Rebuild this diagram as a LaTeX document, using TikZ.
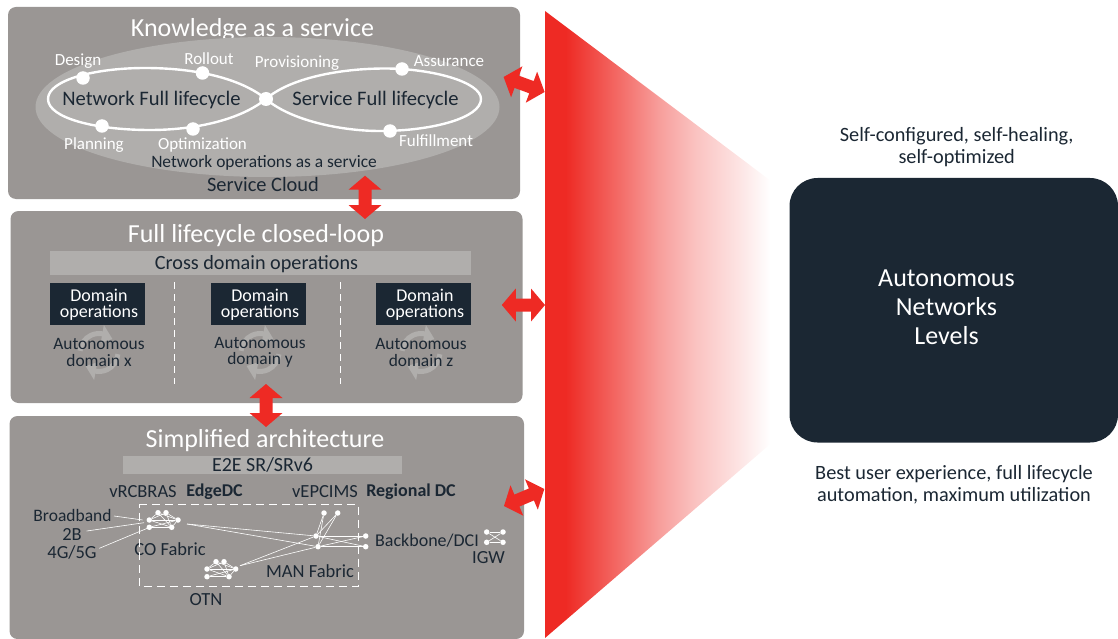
\documentclass[tikz,border=0pt]{standalone}
\usepackage{fontspec}
\setmainfont{Carlito}
\usetikzlibrary{arrows.meta,calc}
\definecolor{panel}{RGB}{154,150,148}
\definecolor{lightp}{RGB}{176,174,172}
\definecolor{navy}{RGB}{27,39,51}
\definecolor{redd}{RGB}{238,42,36}
\pgfdeclarehorizontalshading{wedgefade}{100bp}{color(0bp)=(redd);color(25bp)=(redd);color(29.5bp)=(redd);color(42bp)=(redd!67!white);color(50bp)=(redd!45!white);color(58bp)=(redd!28!white);color(67bp)=(redd!13!white);color(74bp)=(white);color(100bp)=(white)}
\newcommand{\fs}[1]{\fontsize{#1}{#1}\selectfont}
\tikzset{
 x=1pt,y=-1pt,
 panelbox/.style={fill=panel,rounded corners=8pt,draw=none},
 title/.style={text=white,font=\fs{26},inner sep=0},
 lab/.style={text=navy,font=\fs{18.5},inner sep=0,align=center},
 wlab/.style={text=white,font=\fs{17},inner sep=0,align=center},
 dot/.style={circle,fill=white,inner sep=0,minimum size=#1},
 dot/.default=13.5pt,
 tiny/.style={circle,fill=white,inner sep=0,minimum size=5.5pt},
 ln/.style={draw=white,line width=0.6pt},
 loopline/.style={draw=white,line width=2.4pt},
 dom/.style={fill=navy,inner sep=0,minimum width=95pt,minimum height=42pt},
 domtext/.style={text=white,font=\fs{18},inner sep=0,align=center},
 bar/.style={fill=lightp,text=navy,inner sep=0},
 sep/.style={draw=white,line width=0.7pt,dash pattern=on 7pt off 5pt},
 ra/.style={fill=redd,draw=none},
}
\newcommand{\dbl}[4]{%
 \path[ra] let \p1=(#1,#2),\p2=(#3,#4),\n1={atan2(\y2-\y1,\x2-\x1)},\n2={veclen(\x2-\x1,\y2-\y1)} in
 [shift={(#1,#2)},x=1pt,y=1pt,rotate=\n1] (0,0) -- (14,-16.5) -- (14,-6.5) -- ({\n2-14},-6.5) -- ({\n2-14},-16.5) -- (\n2,0) -- ({\n2-14},16.5) -- ({\n2-14},6.5) -- (14,6.5) -- (14,16.5) -- cycle;}
\newcommand{\cyc}[2]{\begin{scope}[shift={(#1,#2)},y=1pt]
 \draw[draw=lightp,line width=5pt] (175:19) arc (175:75:19);
 \draw[draw=lightp,line width=5pt] (-5:19) arc (-5:-105:19);
 \fill[lightp] (80:28) -- (80:10) -- (45:19) -- cycle;
 \fill[lightp] (-100:28) -- (-100:10) -- (-135:19) -- cycle;
\end{scope}}
\begin{document}
\begin{tikzpicture}
\useasboundingbox (0,0) rectangle (1118,639);
% wedge
\path[shading=wedgefade] (545,11) -- (775,184) -- (775,440) -- (545,638) -- cycle;
% panels
\path[panelbox] (8,7) rectangle (520,199);
\path[panelbox] (10.5,211) rectangle (522.5,403);
\path[panelbox] (9.5,416) rectangle (524,639);
% top
\node[title] (t1) at (252.5,29.5) {Knowledge as a service};
\path[fill=lightp] (267.5,107) ellipse [x radius=232pt,y radius=70pt];
\node[dot=14pt] (c) at (266,99) {};
\draw[loopline] (266,99) .. controls (240,78) and (195,68) .. (145,68) .. controls (95,68) and (48,80) .. (48,99) .. controls (48,118) and (95,130) .. (150,130) .. controls (195,130) and (240,120) .. (266,99);
\draw[loopline] (266,99) .. controls (290,78) and (340,68.5) .. (385,68.5) .. controls (432,68.5) and (481,82) .. (481,99) .. controls (481,118) and (432,131) .. (380,131) .. controls (340,131) and (290,120) .. (266,99);
\node[dot] (d1) at (83,78) {};
\node[dot] (d2) at (202.5,73) {};
\node[dot] (d3) at (102,126) {};
\node[dot] (d4) at (193,129) {};
\node[dot] (d5) at (402,69) {};
\node[dot] (d6) at (390,131) {};
\node[wlab] (l1) at (78,61) {Design};
\node[wlab] (l2) at (209,59) {Rollout};
\node[wlab] (l3) at (297,63) {Provisioning};
\node[wlab] (l4) at (449,61) {Assurance};
\node[wlab] (l5) at (94,145) {Planning};
\node[wlab] (l6) at (202.5,145) {Optimization};
\node[wlab] (l7) at (436,141) {Fulfillment};
\node[lab,font=\fs{20.6}] (n1) at (151.5,100) {Network Full lifecycle};
\node[lab,font=\fs{20.6}] (n2) at (375.5,100) {Service Full lifecycle};
\node[lab,font=\fs{17.4}] (n3) at (264,163) {Network operations as a service};
\node[lab,font=\fs{20.4}] (n4) at (263,184) {Service Cloud};
% mid
\node[title] (t2) at (256,236) {Full lifecycle closed-loop};
\node[bar,minimum width=421pt,minimum height=24pt,font=\fs{20.2}] (cross) at (260.5,263) {};
\node[text=navy,font=\fs{20.2},inner sep=0] (crosst) at (256.5,264) {Cross domain operations};
\node[dom] (o1) at (97.5,304) {};
\node[dom] (o2) at (258.5,304) {};
\node[dom] (o3) at (423.5,304) {};
\node[domtext] at (99,304.5) {Domain\\[-2pt]operations};
\node[domtext] at (260,304.5) {Domain\\[-2pt]operations};
\node[domtext] at (425,304.5) {Domain\\[-2pt]operations};
\cyc{99}{352.5}\cyc{260}{352.5}\cyc{421}{352.5}
\node[lab,font=\fs{17.4}] (a1t) at (99,352.5) {Autonomous\\[-1pt]domain x};
\node[lab,font=\fs{17.4}] (a2t) at (260,352.5) {Autonomous\\[-1pt]domain y};
\node[lab,font=\fs{17.4}] (a3t) at (421,352.5) {Autonomous\\[-1pt]domain z};
\coordinate (s1a) at (174.5,282);\coordinate (s1b) at (174.5,384);
\coordinate (s2a) at (340,282);\coordinate (s2b) at (340,384);
\draw[sep] (s1a) -- (s1b);
\draw[sep] (s2a) -- (s2b);
% bottom
\node[title] (t3) at (265,441) {Simplified architecture};
\node[bar,minimum width=279pt,minimum height=18pt] (e2e) at (262.5,465) {};
\node[text=navy,font=\fs{20},inner sep=0] (e2et) at (262.5,465) {E2E SR/SRv6};
\node[lab] (v1) at (143,492) {vRCBRAS};
\node[lab,font=\bfseries\fs{18}] (v2) at (214.5,492) {EdgeDC};
\node[lab] (v3) at (325,492) {vEPCIMS};
\node[lab,font=\bfseries\fs{18}] (v4) at (411,492) {Regional DC};
\node[lab,font=\fs{17.5}] (bb) at (72.5,515) {Broadband};
\node[lab] (tb) at (72,534) {2B};
\node[lab] (gg) at (72,552) {4G/5G};
\node[lab] (co) at (170,549) {CO Fabric};
\node[lab] (otn) at (206,600) {OTN};
\node[lab] (man) at (310,571) {MAN Fabric};
\node[lab,font=\fs{18}] (bk) at (427,541) {Backbone/DCI};
\node[lab] (igw) at (488.5,558) {IGW};
\draw[draw=white,line width=0.7pt,dash pattern=on 8pt off 5pt] (139,504.5) -- (358,504.5) -- (358,586) -- (139,586) -- cycle;
\foreach \n/\x/\y in {a1/158/512.7,a2/166/512.7,a3/149.3/520,a4/178/520,a5/149.3/527.3,a6/171.7/527.3,
 b1/216/561.7,b2x/224/561.7,b3/207/569,b4/235.7/569,b5/207/576.7,b6/229/576.7,
 m1/324/513,m2/337.7/513,m3/316/536,m4/318/546.7,r1/365.7/536,r2/365.7/546.7,
 i1/486.7/532,i2/503/532,i3/486.7/542.3,i4/503/542.3}
 \node[tiny] (\n) at (\x,\y) {};
\foreach \p/\q in {a1/a4,a1/a6,a1/a3,a2/a3,a2/a4,a2/a6,a3/a4,a3/a6,a5/a6,a5/a4,a4/a6,
 b1/b3,b1/b4,b1/b6,b2x/b3,b2x/b4,b2x/b6,b3/b4,b3/b6,b5/b6,b5/b4,b4/b6,
 m1/m3,m1/m4,m2/m3,m2/m4,m3/r1,m3/r2,m4/r1,m4/r2,
 i1/i2,i3/i4,i1/i4,i2/i3}
 \draw[ln] (\p) -- (\q);
\coordinate (f1) at (187,524);\coordinate (f2) at (240,565.7);
\draw[ln] (f1) -- (m3);\draw[ln] (f1) -- (m4);\draw[ln] (f2) -- (m3);\draw[ln] (f2) -- (m4);
\coordinate (e1) at (114,516);\coordinate (e1b) at (142.7,520);
\coordinate (e2) at (86.7,531);\coordinate (e2b) at (144,522.7);
\coordinate (e3) at (99.3,548.3);\coordinate (e3b) at (148,528);
\draw[ln] (e1) -- (e1b);\draw[ln] (e2) -- (e2b);\draw[ln] (e3) -- (e3b);
% arrows
\dbl{503.6}{77}{544.6}{92}
\dbl{365}{175.7}{365}{219}
\dbl{501.8}{305}{545}{305}
\dbl{266}{384}{266}{427}
\dbl{504}{506}{544.3}{489}
% dark box
\path[fill=navy,rounded corners=28pt] (789.5,178) rectangle (1118,442.5);
\node[text=white,font=\fs{26},align=center,inner sep=0] (auto) at (946.5,307) {Autonomous\\[3pt]Networks\\[3pt]Levels};
\node[lab,font=\fs{20.3}] (s1) at (956.7,147) {Self-configured, self-healing,\\[2.5pt]self-optimized};
\node[lab,font=\fs{20.3}] (s2) at (954,485) {Best user experience, full lifecycle\\[2pt]automation, maximum utilization};
\end{tikzpicture}
\end{document}
